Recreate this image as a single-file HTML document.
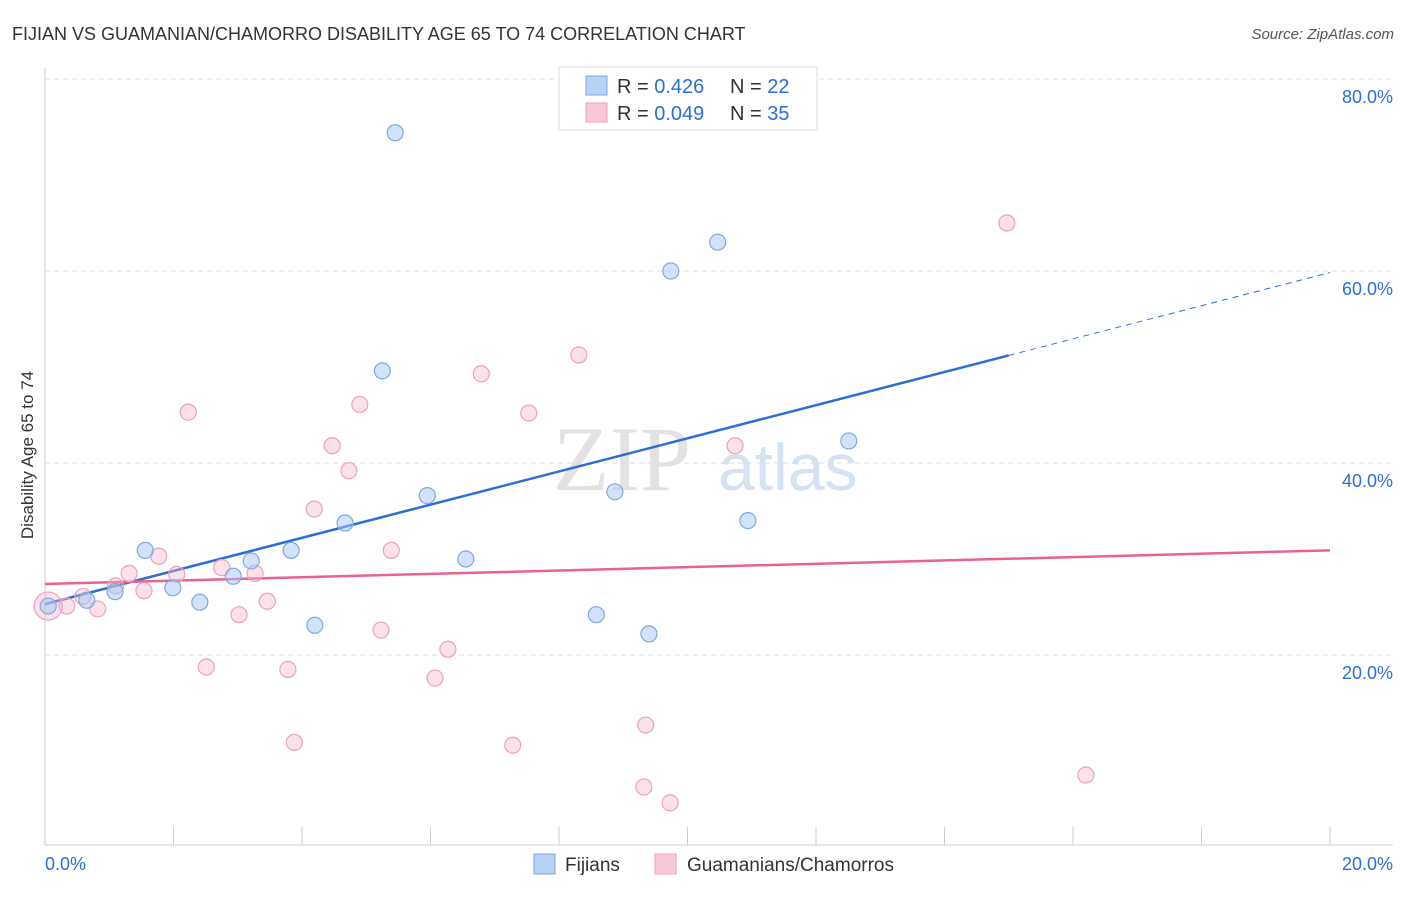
<!DOCTYPE html>
<html><head><meta charset="utf-8"><style>
body{margin:0;background:#fff;font-family:"Liberation Sans",sans-serif;}
</style></head><body>
<svg id="chart" width="1406" height="892" xmlns="http://www.w3.org/2000/svg" font-family="Liberation Sans, sans-serif">
<text x="12" y="40" font-size="18" fill="#333">FIJIAN VS GUAMANIAN/CHAMORRO DISABILITY AGE 65 TO 74 CORRELATION CHART</text>
<text x="1394" y="39" font-size="15" fill="#555" font-style="italic" text-anchor="end">Source: ZipAtlas.com</text>
<text transform="translate(33,455) rotate(-90)" font-size="17" fill="#333" text-anchor="middle">Disability Age 65 to 74</text>
<text x="553" y="490" font-size="92" fill="#e2e2e2" font-family="Liberation Serif, serif">ZIP</text>
<text x="718" y="490" font-size="66" fill="#d4e2f4">atlas</text>
<g id="grid"></g><g id="axes"></g><g id="lines"></g><g id="points"></g>
<g>
<rect x="559" y="67" width="258" height="63" fill="#fff" stroke="#ddd"/>
<rect x="586" y="76" width="21" height="19" fill="#b8d2f6" stroke="#7fa8e0"/>
<rect x="586" y="103" width="21" height="19" fill="#f9c8d6" stroke="#f0a0b8"/>
<text x="617" y="93" font-size="20" fill="#333">R = <tspan fill="#2a6fd6">0.426</tspan><tspan x="730">N = </tspan><tspan fill="#2a6fd6">22</tspan></text>
<text x="617" y="120" font-size="20" fill="#333">R = <tspan fill="#2a6fd6">0.049</tspan><tspan x="730">N = </tspan><tspan fill="#2a6fd6">35</tspan></text>
</g>
<g>
<rect x="534" y="854" width="21" height="20" fill="#b8d2f6" stroke="#7fa8e0"/>
<text x="565" y="871" font-size="19" fill="#333">Fijians</text>
<rect x="655" y="854" width="21" height="20" fill="#f9c8d6" stroke="#f0a0b8"/>
<text x="687" y="871" font-size="19" fill="#333">Guamanians/Chamorros</text>
</g>
</svg>
<script>
const blueX=[5.45,10.47,9.74,5.25,12.51,5.95,8.87,10.94,4.67,1.56,3.83,6.55,3.21,2.93,1.99,1.09,0.65,2.41,0.05,8.58,4.20,9.40];
const blueY=[74.4,63.0,60.0,49.6,42.3,36.6,37.0,34.0,33.75,30.9,30.9,30.0,29.8,28.2,27.0,26.6,25.7,25.5,25.1,24.2,23.1,22.2];
const pinkX=[14.97,8.31,6.79,4.90,2.23,7.53,4.47,10.74,4.73,4.19,5.39,1.77,2.05,1.31,2.75,3.27,1.54,1.10,0.59,0.34,0.05,0.82,3.46,3.02,5.23,6.27,2.51,3.78,6.07,3.88,7.28,9.35,16.20,9.32,9.73];
const pinkY=[65.0,51.25,49.3,46.1,45.3,45.2,41.8,41.8,39.2,35.2,30.9,30.3,28.4,28.5,29.1,28.5,26.7,27.2,26.1,25.1,25.1,24.8,25.6,24.2,22.6,20.6,18.75,18.5,17.6,10.9,10.6,12.7,7.5,6.25,4.6];
const blueTrend=[25.3,1.727];
const pinkTrend=[27.4,0.175];
const yTicks=[20,40,60,80];
const xTicks=[0,2,4,6,8,10,12,14,16,18,20];
const NS="http://www.w3.org/2000/svg";
const sx=v=>45+v/20*1285, sy=v=>847-v*9.6;
function mk(parent,tag,attrs){const e=document.createElementNS(NS,tag);for(const k in attrs)e.setAttribute(k,attrs[k]);document.getElementById(parent).appendChild(e);return e;}
yTicks.forEach(t=>{
 const l=mk('grid','line',{x1:45,x2:1393,y1:sy(t),y2:sy(t),stroke:'#ddd','stroke-dasharray':'5,4'});
 
 
 const tx=mk('grid','text',{x:1393,y:sy(t)+24,'font-size':18,fill:'#2a6fd6','text-anchor':'end'});
 tx.textContent=t.toFixed(1)+'%';
 
 
});
mk('axes','line',{x1:45,x2:45,y1:68,y2:845,stroke:'#ccc'});
mk('axes','line',{x1:45,x2:1393,y1:845,y2:845,stroke:'#ccc'});
xTicks.forEach(t=>{
 const l=mk('axes','line',{x1:sx(t),x2:sx(t),y1:827,y2:845,stroke:'#ccc'});
 
 
});
[[0,'start',45],[20,'end',1393]].forEach(([t,a,x])=>{
 const tx=mk('axes','text',{x:x,y:870,'font-size':18,fill:'#2a6fd6','text-anchor':a});
 tx.textContent=t.toFixed(1)+'%';
 
 
});
const bl=mk('lines','line',{x1:sx(0),y1:sy(blueTrend[0]),x2:sx(15),y2:sy(blueTrend[0]+15*blueTrend[1]),stroke:'#2a6fd6','stroke-width':2.5});


const bd=mk('lines','line',{x1:sx(15),y1:sy(blueTrend[0]+15*blueTrend[1]),x2:sx(20),y2:sy(blueTrend[0]+20*blueTrend[1]),stroke:'#2a6fd6','stroke-width':1,'stroke-dasharray':'6,5'});


const pl=mk('lines','line',{x1:sx(0),y1:sy(pinkTrend[0]),x2:sx(20),y2:sy(pinkTrend[0]+20*pinkTrend[1]),stroke:'#e8638f','stroke-width':2.5});


pinkX.forEach((x,i)=>{
 const c=mk('points','circle',{cx:sx(x),cy:sy(pinkY[i]),r:(i===20?14:8),fill:'rgba(246,182,202,0.4)',stroke:'#f0a0b8','stroke-width':1.2});
 
 
});
blueX.forEach((x,i)=>{
 const c=mk('points','circle',{cx:sx(x),cy:sy(blueY[i]),r:8,fill:'rgba(165,198,242,0.5)',stroke:'#7fa8e0','stroke-width':1.2});
 
 
});
</script>
</body></html>
